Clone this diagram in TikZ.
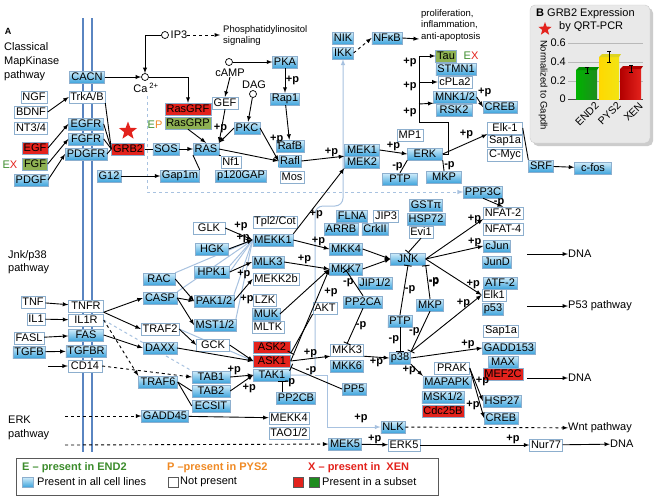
\documentclass[tikz,border=0pt]{standalone}
\usepackage{fontspec}
\setmainfont{Liberation Sans}
\usepackage{xcolor}
\usepackage{tikz}
\usetikzlibrary{shapes.geometric, arrows, positioning, backgrounds}

\definecolor{bxtop}{HTML}{D2EDFA}
\definecolor{bxbot}{HTML}{3EA4DC}
\definecolor{bxline}{HTML}{8DAFCE}
\definecolor{kred}{HTML}{E3221C}
\definecolor{kgreen}{HTML}{8DB152}
\definecolor{memb}{HTML}{5A85C1}
\definecolor{lgrp}{HTML}{A8C2E0}
\definecolor{egreen}{HTML}{3C8C2C}
\definecolor{porange}{HTML}{F08A24}
\definecolor{bargreen}{HTML}{1E8C1E}
\definecolor{baryellow}{HTML}{F2E414}

\newcommand{\boxfont}{\fontsize{11}{12}\selectfont}
\newcommand{\smallfont}{\fontsize{9.5}{11.5}\selectfont}

\begin{document}
\begin{tikzpicture}[x=1pt, y=-1pt, >=latex,
    gene/.style={draw=bxline, inner xsep=1.5pt, inner ysep=0pt, minimum height=12pt, font=\boxfont},
    bx/.style={gene, top color=bxtop, bottom color=bxbot},
    wb/.style={gene, fill=white},
    rb/.style={gene, fill=kred},
    gb/.style={gene, fill=kgreen},
    lbl/.style={font=\boxfont\bfseries, inner sep=0.5pt},
    txt/.style={font=\boxfont, align=left, inner sep=0pt},
    circ/.style={circle, draw, fill=white, minimum size=7pt, inner sep=0pt, line width=0.7pt},
    arr/.style={->, line width=0.9pt},
    inh/.style={-|, line width=0.9pt},
    grp/.style={lgrp, line width=1pt}
]
\useasboundingbox (0,0) rectangle (655,499);

% ---------- upper part: classical MAPK ----------
\node[bx, minimum width=35pt] (cacn) at (87,77) {CACN};
\node[wb, minimum width=35pt] (trka) at (87,97) {TrkA/B};
\node[bx, minimum width=35pt] (egfr) at (86,124) {EGFR};
\node[bx, minimum width=35pt] (fgfr) at (86,139) {FGFR};
\node[bx, minimum width=41pt] (pdgfr) at (86,154) {PDGFR};
\node[wb] (ngf) at (34,97) {NGF};
\node[wb, minimum width=32pt] (bdnf) at (31,112) {BDNF};
\node[wb, minimum width=32pt] (nt) at (31,128) {NT3/4};
\node[rb, minimum width=25pt] (egf) at (35,148) {EGF};
\node[gb, minimum width=25pt] (fgf) at (35,164) {FGF};
\node[bx, minimum width=32pt] (pdgf) at (31,180) {PDGF};
\node[rb] (grb) at (128,149) {GRB2};
\node[bx] (sos) at (166,149) {SOS};
\node[bx] (ras) at (206,149) {RAS};
\node[rb, minimum width=44pt] (rasgrf) at (188,109) {RasGRF};
\node[gb, minimum width=44pt] (rasgrp) at (188,123) {RasGRP};
\node[wb] (gef) at (225,103) {GEF};
\node[bx] (pkc) at (247,128) {PKC};
\node[bx] (pka) at (285,62) {PKA};
\node[bx] (rap) at (285,99) {Rap1};
\node[bx, minimum width=17pt] (rafb) at (290,146) {RafB};
\node[bx, minimum width=17pt] (rafi) at (290,161) {Rafl};
\node[wb] (mos) at (292,177) {Mos};
\node[wb] (nf) at (231,162) {Nf1};
\node[bx] (gap) at (241,176) {p120GAP};
\node[bx] (gapm) at (180,176) {Gap1m};
\node[bx] (g12) at (109,176) {G12};
\node[bx, minimum width=35pt] (mek1) at (362,150) {MEK1};
\node[bx, minimum width=35pt] (mek2) at (362,162) {MEK2};
\node[bx, minimum width=35pt] (erk) at (425,154) {ERK};
\node[wb] (mp) at (410,135) {MP1};
\node[bx, minimum width=35pt] (ptp) at (400,179) {PTP};
\node[bx, minimum width=35pt] (mkp) at (444,177) {MKP};
\node[bx, minimum width=20pt] (nik) at (343,38) {NIK};
\node[bx, minimum width=20pt] (ikk) at (343,53) {IKK};
\node[bx] (nfkb) at (387,38) {NFκB};
\node[gb] (tau) at (446,56) {Tau};
\node[bx, minimum width=38pt] (stmn) at (456,69) {STMN1};
\node[wb] (cpla) at (455,82) {cPLa2};
\node[bx, minimum width=40pt] (mnk) at (455,97) {MNK1/2};
\node[bx, minimum width=36pt] (rsk) at (454,110) {RSK2};
\node[bx] (creb) at (500,107) {CREB};
\node[wb, minimum width=35pt] (elk) at (505,128) {Elk-1};
\node[wb, minimum width=35pt] (sap) at (505,141) {Sap1a};
\node[wb, minimum width=35pt] (myc) at (505,155) {C-Myc};
\node[bx, minimum width=23pt] (srf) at (541,166) {SRF};
\node[bx, minimum width=37pt] (cfos) at (593,168) {c-fos};

\node[circ] (ca) at (145,77) {};
\node[circ] (ip3c) at (165,35) {};
\node[circ] (campc) at (229,62) {};
\node[circ] (dagc) at (253,94) {};
\node[txt] (catxt) at (146,88) {Ca\,\textsuperscript{2+}};
\node[txt] (ip3) at (179,35) {IP3};
\node[txt] (camp) at (230,73) {cAMP};
\node[txt] (dag) at (254,85) {DAG};
\node[txt, font=\smallfont, anchor=north west] (phos) at (223,25) {Phosphatidylinositol\\signaling};
\node[txt, font=\smallfont, anchor=north west] (prolif) at (421,9) {proliferation,\\inflammation,\\anti-apoptosis};
\node[star, star points=5, star point ratio=2.4, fill=kred, minimum size=19pt, inner sep=0pt] (star) at (128,131) {};
\node[txt] (ex1) at (10,165) {\textcolor{egreen}{E}\textcolor{kred}{X}};
\node[txt] (ep) at (155,125) {\textcolor{egreen}{E}\textcolor{porange}{P}};
\node[txt] (ex2) at (471,56) {\textcolor{egreen}{E}\textcolor{kred}{X}};

% side titles
\node[font=\fontsize{9}{10}\selectfont\bfseries, inner sep=0pt] (lettera) at (8,31) {A};
\node[txt, font=\fontsize{11}{14}\selectfont, anchor=north west] (classic) at (4,42) {Classical\\MapKinase\\pathway};
\node[txt, font=\fontsize{11}{13.5}\selectfont, anchor=north west] (jnkp) at (8,250) {Jnk/p38\\pathway};
\node[txt, font=\fontsize{11}{14}\selectfont, anchor=north west] (erkp) at (8,416) {ERK\\pathway};

% ---------- lower part: JNK / p38 / ERK5 ----------
\node[wb, minimum width=32pt] (glk) at (209,228) {GLK};
\node[bx, minimum width=33pt] (hgk) at (212,249) {HGK};
\node[bx, minimum width=35pt] (hpk) at (212,272) {HPK1};
\node[bx, minimum width=32pt] (rac) at (159,279) {RAC};
\node[bx, minimum width=34pt] (casp) at (160,298) {CASP};
\node[bx, minimum width=38pt] (pak) at (214,301) {PAK1/2};
\node[bx, minimum width=40pt] (mst) at (215,325) {MST1/2};
\node[wb, minimum width=35pt] (traf2) at (160,329) {TRAF2};
\node[wb, minimum width=33pt] (gck) at (213,345) {GCK};
\node[bx, minimum width=34pt] (daxx) at (160,348) {DAXX};
\node[bx, minimum width=40pt] (mekk1) at (273,240) {MEKK1};
\node[bx, minimum width=30pt] (mlk) at (268,262) {MLK3};
\node[wb, minimum width=45pt] (mekk2) at (276,279) {MEKK2b};
\node[wb] (lzk) at (265,300) {LZK};
\node[bx] (muk) at (266,314) {MUK};
\node[wb] (mltk) at (268,327) {MLTK};
\node[rb, minimum width=37pt] (ask2) at (272,347) {ASK2};
\node[rb, minimum width=37pt] (ask1) at (272,361) {ASK1};
\node[bx, minimum width=37pt] (tak) at (272,375) {TAK1};
\node[bx, minimum width=38pt] (pp2cb) at (296,398) {PP2CB};
\node[bx] (pp5) at (354,389) {PP5};
\node[wb, minimum width=31pt] (mkk3) at (347,350) {MKK3};
\node[bx, minimum width=31pt] (mkk6) at (347,366) {MKK6};
\node[wb, minimum width=38pt] (mekk4) at (289,418) {MEKK4};
\node[wb, minimum width=38pt] (tao) at (289,433) {TAO1/2};
\node[bx, minimum width=30pt] (mek5) at (345,444) {MEK5};
\node[wb, minimum width=28pt] (erk5) at (404,445) {ERK5};
\node[bx] (nlk) at (393,427) {NLK};
\node[bx, minimum width=38pt] (tab1) at (211,377) {TAB1};
\node[bx, minimum width=38pt] (tab2) at (211,391) {TAB2};
\node[bx, minimum width=38pt] (ecsit) at (211,406) {ECSIT};
\node[bx, minimum width=39pt] (traf6) at (158,382) {TRAF6};
\node[bx, minimum width=46pt] (gadd) at (165,416) {GADD45};
\node[wb] (tnf) at (33,302) {TNF};
\node[wb, minimum width=35pt] (tnfr) at (86,306) {TNFR};
\node[wb] (il1) at (36,319) {IL1};
\node[wb, minimum width=35pt] (il1r) at (86,320) {IL1R};
\node[wb] (fasl) at (29,338) {FASL};
\node[bx, minimum width=35pt] (fas) at (86,335) {FAS};
\node[bx, minimum width=32pt] (tgfb) at (29,352) {TGFB};
\node[bx, minimum width=38pt] (tgfbr) at (86,351) {TGFBR};
\node[wb, minimum width=34pt] (cd14) at (85,366) {CD14};
\node[bx, minimum width=32pt] (mkk4) at (346,249) {MKK4};
\node[bx, minimum width=32pt] (mkk7) at (346,269) {MKK7};
\node[bx, minimum width=30pt] (flna) at (352,216) {FLNA};
\node[bx, minimum width=33pt] (arrb) at (341,229) {ARRB};
\node[wb, minimum width=22pt] (jip3) at (386,216) {JIP3};
\node[bx, minimum width=25pt] (crk) at (375,229) {CrkII};
\node[wb, minimum width=44pt] (tpl) at (275,222) {Tpl2/Cot};
\node[bx, minimum width=32pt] (gst) at (426,205) {GSTπ};
\node[bx, minimum width=32pt] (hsp72) at (426,219) {HSP72};
\node[wb] (evi) at (421,232) {Evi1};
\node[bx, minimum width=35pt] (jnk) at (408,259) {JNK};
\node[bx, minimum width=34pt] (jip) at (375,283) {JIP1/2};
\node[bx, minimum width=37pt] (pp2ca) at (363,302) {PP2CA};
\node[wb, minimum width=24pt] (akt) at (325,308) {AKT};
\node[bx, minimum width=24pt] (ptpb) at (400,321) {PTP};
\node[bx, minimum width=26pt] (mkpb) at (430,305) {MKP};
\node[bx, minimum width=20pt] (p38) at (400,358) {p38};
\node[wb, minimum width=35pt] (prak) at (452,368) {PRAK};
\node[bx, minimum width=47pt] (mapapk) at (447,382) {MAPAPK};
\node[bx, minimum width=40pt] (msk) at (443,397) {MSK1/2};
\node[rb, minimum width=40pt] (cdc) at (443,411) {Cdc25B};
\node[wb, minimum width=32pt] (sapb) at (501,331) {Sap1a};
\node[bx, minimum width=52pt] (gadd153) at (509,348) {GADD153};
\node[bx, minimum width=30pt] (max) at (503,362) {MAX};
\node[rb, minimum width=37pt] (mef) at (503,374) {MEF2C};
\node[bx, minimum width=35pt] (hsp27) at (502,401) {HSP27};
\node[bx, minimum width=33pt] (crebb) at (501,418) {CREB};
\node[wb, minimum width=32pt] (nur) at (546,445) {Nur77};
\node[wb, minimum width=38pt] (nfat2) at (503,213) {NFAT-2};
\node[wb, minimum width=38pt] (nfat4) at (503,229) {NFAT-4};
\node[bx, minimum width=27pt] (cjun) at (497,246) {cJun};
\node[bx, minimum width=27pt] (jund) at (497,262) {JunD};
\node[bx, minimum width=34pt] (atf) at (500,283) {ATF-2};
\node[wb, minimum width=22pt] (elkb) at (494,295) {Elk1};
\node[bx, minimum width=20pt] (p53) at (493,309) {p53};
\node[bx, minimum width=37pt] (ppp) at (483,192) {PPP3C};

\node[txt, anchor=west] (dna1) at (568,254) {DNA};
\node[txt, anchor=west] (p53p) at (568,306) {P53 pathway};
\node[txt, anchor=west] (dna2) at (568,378) {DNA};
\node[txt, anchor=west] (wnt) at (568,428) {Wnt pathway};
\node[txt, anchor=west] (dna3) at (610,444) {DNA};

\coordinate (phosin) at (220,35);
\coordinate (prolifin) at (419,39);
\coordinate (dbtop) at (147,96);
\coordinate (dbcorner) at (147,192);
\coordinate (erkup) at (448,122);
\coordinate (bustop) at (419,56);
\coordinate (busmid) at (419,82);
\coordinate (busbot) at (419,104);
\coordinate (cdin) at (48,366);
\coordinate (gaddin) at (65,416);
\coordinate (mek5in) at (65,445);
\coordinate (dna1in) at (527,254);
\coordinate (p53in) at (527,306);
\coordinate (dna2in) at (527,378);
\coordinate (grpa) at (315,375);
\coordinate (grpb) at (315,206);
\coordinate (grpc) at (343,206);
\coordinate (grpd) at (327,375);
\coordinate (grpe) at (327,427);

% background: membrane and group lines
\begin{scope}[on background layer]
\fill[white] (0,0) rectangle (655,499);
\draw[memb, line width=2pt] (83,18) -- (83,452);
\draw[memb, line width=2pt] (92,18) -- (92,452);
\draw[grp] (hgk.east) -- (mekk1.west);
\draw[grp] (hpk.north east) -- (mekk1.west);
\draw[grp] (hpk.east) -- (mekk1.west);
\draw[grp] (rac.north east) -- (mekk1.west);
\draw[grp] (casp.north east) -- (mekk1.west);
\draw[grp] (pak.north east) -- (mekk1.west);
\draw[grp] (mst.north east) -- (mekk1.west);
\draw[grp] (traf2.east) -- (ask1.west);
\draw[grp, dashed] (il1r.east) -- (tab1.north west);
\draw[grp, ->, rounded corners=8pt] (tak.east) -- (grpa) -- (grpb) -- (grpc) -- (ikk.south);
\draw[grp, ->] (grpa) -- (grpd) -- (grpe) -- (nlk.west);
\draw[grp, dashed, ->] (dbtop) -- (dbcorner) -- (ppp.west);
\end{scope}

% Classical pathway
\draw[arr] (bdnf.east) -- (trka.west);
\draw[arr] (egf.east) -- (egfr.west);
\draw[arr] (fgf.east) -- (fgfr.west);
\draw[arr] (pdgf.east) -- (pdgfr.west);
\draw[line width=0.9pt] (trka.south east) -- (grb.west);
\draw[line width=0.9pt] (egfr.east) -- (grb.west);
\draw[line width=0.9pt] (fgfr.east) -- (grb.west);
\draw[line width=0.9pt] (pdgfr.east) -- (grb.west);
\draw[line width=0.9pt] (grb) -- (sos);
\draw[arr] (sos) -- (ras);
\draw[arr] (cacn) -- (ca);
\draw[arr] (ip3c.west) -| (ca.north);
\draw[arr, dashed] (ip3.east) -- (phosin);
\draw[arr] (ca.east) -| (rasgrf.north);
\draw[arr] (rasgrp.south) -- (ras.north);
\draw[arr] (gef.south) -- (ras.north east);
\draw[arr] (campc) -- (pka);
\draw[arr] (camp.south) -- (gef.north);
\draw[arr] (dagc) -- (pkc);
\draw[arr] (pka) -- node[lbl, right] {+p} (rap);
\draw[arr] (rap) -- (rafb);
\draw[arr] (pkc.west) -- node[lbl, above left, pos=0.4] {+p} (ras.north east);
\draw[arr] (pkc.east) -- node[lbl, above right] {+p} (rafi.west);
\draw[arr] (ras.east) -- (rafi.west);
\draw[line width=0.9pt] (ras.south west) -- (gapm.north east);
\draw[line width=0.9pt] (ras.south east) -- (nf.north west);
\draw[arr] (g12) -- (gapm);
\draw[arr] (rafi.east) -- node[lbl, above, pos=0.7] {+p} (mek1.south west);
\draw[arr] (mek1.east) -- node[lbl, above] {+p} (erk.west);
\draw[line width=0.9pt] (ptp.north) -- node[lbl, left] {-p} (erk.south west);
\draw[line width=0.9pt] (mkp.north) -- node[lbl, right] {-p} (erk.south east);
\draw[line width=0.9pt] (erk.east) -| (erkup) -| (bustop);
\draw[arr] (bustop) -- (tau.west);
\draw[arr] (busmid) -- (cpla.west);
\draw[arr] (busbot) -- (mnk.south west);
\node[lbl] (pbus1) at (410,62) {+p};
\node[lbl] (pbus2) at (410,86) {+p};
\node[lbl] (pbus3) at (410,112) {+p};
\draw[arr] (erk.east) -- node[lbl, above left, pos=0.7] {+p} (elk.south west);
\draw[arr] (mnk.east) -- node[lbl, above right, pos=0.1] {+p} (creb.west);
\draw[line width=0.9pt] (elk.east) -- (srf.north west);
\draw[arr] (srf) -- (cfos);
\draw[arr, dashed] (ikk.east) -- (nfkb.west);
\draw[arr] (nfkb.east) -- (prolifin);

% JNK and p38
\draw[arr] (tnf) -- (tnfr);
\draw[arr] (il1) -- (il1r);
\draw[arr] (fasl) -- (fas);
\draw[arr] (tgfb) -- (tgfbr);
\draw[arr] (cdin) -- (cd14);
\draw[arr] (tnfr.south east) -- (casp.west);
\draw[arr] (tnfr.south east) -- (traf2.west);
\draw[arr] (fas.east) -- (daxx.west);
\draw[arr, dashed] (il1r.east) -- (traf6.north west);
\draw[arr, dashed] (cd14.east) -- (tab1.west);
\draw[line width=0.9pt] (traf6.east) -- (tab2.west);
\draw[line width=0.9pt] (traf6.east) -- (ecsit.west);
\draw[arr, dashed] (gaddin) -- (gadd);
\draw[arr] (gadd) -- (mekk4);
\draw[arr, dashed] (mek5in) -- (mek5);
\draw[arr] (mek5) -- node[lbl, above] {+p} (erk5);
\draw[arr] (erk5) -- node[lbl, above, pos=0.85] {+p} (nur);
\draw[arr] (nur) -- (dna3);
\draw[arr, dashed] (nlk) -- (wnt);
\node[lbl] (pnlk) at (361,418) {+p};
\draw[arr] (rac.east) -- (pak.west);
\draw[arr] (casp.east) -- (pak.west);
\draw[arr] (casp.east) -- (mst.west);
\draw[arr] (traf2.east) -- (gck.west);
\draw[arr] (glk.east) -- node[lbl, above right, pos=0.3] {+p} (mekk1.west);
\draw[arr] (hgk.east) -- node[lbl, above, pos=0.6] {+p} (mekk1.west);
\draw[arr] (hpk.east) -- node[lbl, below right, pos=0.3] {+p} (mlk.west);
\draw[arr] (pak.east) -- node[lbl, below right, pos=0.3] {+p} (mekk2.west);
\draw[arr] (daxx.east) -- (ask1.west);
\draw[arr] (gck.east) -- (ask1.west);
\draw[arr] (tab1.east) -- node[lbl, above left] {+p} (tak.west);
\draw[arr] (tab2.east) -- node[lbl, below right] {+p} (tak.west);
\draw[arr] (mekk1.east) -- node[lbl, above, pos=0.7] {+p} (mkk4.west);
\draw[arr] (mlk.east) -- node[lbl, above, pos=0.45] {+p} (mkk7.west);
\draw[arr] (muk.east) -- (mkk7.west);
\draw[arr] (ask1.east) -- (mkk7.west);
\node[lbl] (paskb) at (331,292) {+p};
\draw[arr] (mekk1.north east) -- node[lbl, right, pos=0.3] {+p} (mek2.south west);
\draw[inh] (akt.south west) -- (ask2.south east);
\draw[arr] (ask1.east) -- node[lbl, above, pos=0.5] {+p} (mkk3.south west);
\draw[inh] (pp5.west) -- node[lbl, above, pos=0.6] {-p} (ask1.south east);
\draw[inh] ([xshift=6pt]pp2cb.north west) -- ([xshift=6pt]pp2cb.north west |- tak.south);
\node[lbl] (ppcb) at (290,383) {-p};
\draw[arr] (mkk3.south east) -- node[lbl, below, pos=0.5] {+p} (p38.west);
\draw[inh] (pp2ca.north) -- node[lbl, left] {-p} ([yshift=5pt]mkk7.south);
\draw[inh] (pp2ca.south) -- node[lbl, right] {-p} (mkk3.north);
\draw[arr] (mkk4.east) -- (jnk.west);
\draw[arr] (mkk7.east) -- (jnk.west);
\draw[inh] (evi.south) -- (jnk.north);
\draw[inh] (ptpb.north) -- node[lbl, right] {-p} (jnk.south);
\draw[inh] (ptpb.south) -- node[lbl, left] {-p} (p38.north);
\draw[inh] (mkpb.north) -- node[lbl, right] {-p} (jnk.south east);
\draw[inh] (mkpb.south) -- node[lbl, left] {-p} (p38.north east);
\draw[arr] (jnk.east) -- node[lbl, above, pos=0.85] {+p} (nfat2.south west);
\draw[arr] (jnk.east) -- node[lbl, above, pos=0.85] {+p} (cjun.west);
\draw[arr] (jnk.east) -- node[lbl, above, pos=0.85] {+p} (elkb.west);
\draw[arr] (p38.north east) -- node[lbl, left, pos=0.85] {+p} (elkb.west);
\node[lbl] (pjnk1) at (434,283) {-p};
\draw[arr] (p38.east) -- node[lbl, above, pos=0.8] {+p} (gadd153.west);
\draw[arr] (p38.south east) -- node[lbl, left] {+p} (mapapk.north west);
\draw[arr] (prak.east) -- node[lbl, right, pos=0.4] {+p} (hsp27.west);
\draw[arr] (prak.east) -- node[lbl, left, pos=0.75] {+p} (crebb.west);
\draw[arr] (ppp.south) -- node[lbl, right] {-p} (nfat2.north);
\draw[arr] (dna1in) -- (dna1);
\draw[arr] (p53in) -- (p53p);
\draw[arr] (dna2in) -- (dna2);

% legend
\draw[gray!70!black, line width=0.8pt] (16,458) rectangle (438,495);
\node[txt, anchor=west, font=\boxfont\bfseries, text=egreen] (leg1) at (22,468) {E -- present in END2};
\node[txt, anchor=west, font=\boxfont\bfseries, text=porange] (leg2) at (167,468) {P --present in PYS2};
\node[txt, anchor=west, font=\boxfont\bfseries, text=kred] (leg3) at (308,468) {X -- present in\ \ XEN};
\shade[top color=bxtop, bottom color=bxbot, draw=bxline] (22,477) rectangle (33,487);
\node[txt, anchor=west] (leg4) at (37,482) {Present in all cell lines};
\draw[gray!70!black, fill=white] (168,477) rectangle (178,487);
\node[txt, anchor=west] (leg5) at (180,482) {Not present};
\draw[gray!70!black, fill=kred] (293,477) rectangle (303,487);
\draw[gray!70!black, fill=bargreen] (309,477) rectangle (319,487);
\node[txt, anchor=west] (leg6) at (322,482) {Present in a subset};

% panel B
\fill[gray!40, rounded corners=5pt] (533,8) rectangle (653,146);
\filldraw[fill=gray!17, draw=gray!40, rounded corners=5pt] (530,5) rectangle (650,143);
\node[txt, anchor=west] (btitle) at (536,14) {\textbf{B} GRB2 Expression};
\node[star, star points=5, star point ratio=2.4, fill=kred, minimum size=14pt, inner sep=0pt] (bstar) at (545,29) {};
\node[txt, anchor=west] (bsub) at (559,27) {by QRT-PCR};
\foreach \yy/\vv in {43/0.6, 62/0.4, 81/0.2} {
  \draw[gray!55] (568,\yy) -- (643,\yy);
  \node[txt, anchor=east] at (566,\yy) {\vv};
}
\draw[gray!60!black] (568,99) -- (643,99);
\node[txt, anchor=east] (bzero) at (566,99) {0};
\node[txt, rotate=-90, font=\fontsize{9.5}{11}\selectfont] (bylab) at (543,85) {Normalized to Gapdh};
\shade[left color=green!70!black, right color=bargreen] (576,70) rectangle (597,99);
\fill[green!55!black] (576,70) -- (579,67) -- (599,67) -- (597,70) -- cycle;
\shade[left color=yellow!70!orange, right color=baryellow] (599,57) rectangle (619,99);
\fill[yellow!85!black] (599,57) -- (602,54) -- (621,54) -- (619,57) -- cycle;
\shade[left color=red!70!black, right color=kred] (620,69) rectangle (641,99);
\fill[red!70!black] (620,69) -- (623,66) -- (643,66) -- (641,69) -- cycle;
\draw[line width=0.6pt] (587,67) -- (587,73) (585,67) -- (589,67) (585,73) -- (589,73);
\draw[line width=0.6pt] (609,51) -- (609,62) (607,51) -- (611,51) (607,62) -- (611,62);
\draw[line width=0.6pt] (631,65) -- (631,72) (629,65) -- (633,65) (629,72) -- (633,72);
\node[txt, rotate=45, anchor=east, font=\fontsize{10.5}{12}\selectfont] (bx1) at (597,104) {END2};
\node[txt, rotate=45, anchor=east, font=\fontsize{10.5}{12}\selectfont] (bx2) at (619,104) {PYS2};
\node[txt, rotate=45, anchor=east, font=\fontsize{10.5}{12}\selectfont] (bx3) at (641,104) {XEN};
\end{tikzpicture}
\end{document}
